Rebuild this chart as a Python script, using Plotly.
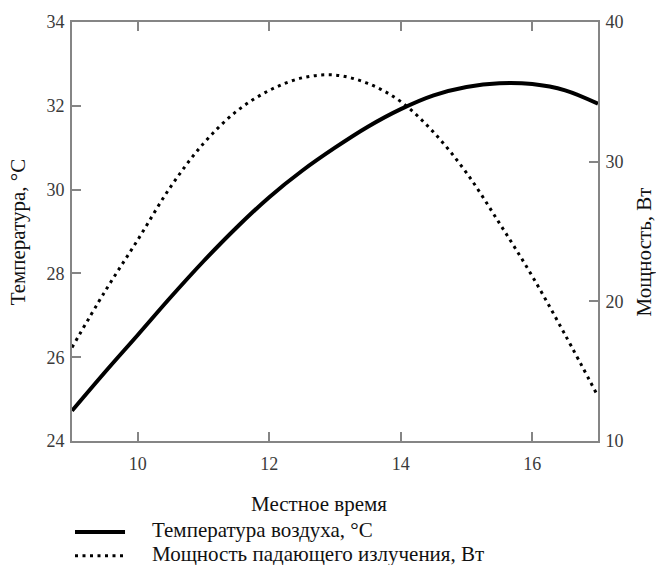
import plotly.graph_objects as go

# ---- data ----
hours = [9.0, 9.5, 10.0, 10.5, 11.0, 11.5, 12.0, 12.5, 13.0, 13.5,
         14.0, 14.5, 15.0, 15.5, 16.0, 16.5, 17.0]
temperature = [24.72, 25.64, 26.53, 27.43, 28.29, 29.09, 29.82, 30.45, 31.00, 31.50,
               31.92, 32.25, 32.45, 32.54, 32.52, 32.37, 32.05]
power = [16.7, 20.7, 24.4, 28.2, 31.3, 33.6, 35.1, 36.0, 36.2, 35.6,
         34.3, 32.1, 29.2, 25.6, 21.8, 17.6, 13.2]

x_ticks = [10, 12, 14, 16]
y_ticks = [24, 26, 28, 30, 32, 34]
y2_ticks = [10, 20, 30, 40]

x_title = "Местное время"
y_title = "Температура, °C"
y2_title = "Мощность, Вт"
series_names = ["Температура воздуха, °C", "Мощность падающего излучения, Вт"]

FONT = "Liberation Serif"
AXIS_COLOR = "#858585"
TICK_FONT = dict(family=FONT, size=18, color="#3a3a3a")
TITLE_FONT = dict(family=FONT, size=21, color="#111111")

fig = go.Figure()
fig.add_trace(go.Scatter(
    x=hours, y=temperature, name=series_names[0], mode="lines",
    line=dict(color="black", width=4, shape="spline", smoothing=1.0), showlegend=False,
))
fig.add_trace(go.Scatter(
    x=hours, y=power, name=series_names[1], mode="lines", yaxis="y2",
    line=dict(color="black", width=3, dash="3px,4.5px", shape="spline"), showlegend=False,
))

axis_common = dict(
    showgrid=False, zeroline=False, showline=True, linecolor=AXIS_COLOR, linewidth=1.6,
    ticks="inside", ticklen=9, tickwidth=1.6, tickcolor=AXIS_COLOR, tickfont=TICK_FONT,
)

fig.update_layout(
    width=656, height=565,
    margin=dict(l=72, r=58, t=17, b=124),
    paper_bgcolor="white", plot_bgcolor="white",
    font=dict(family=FONT),
    xaxis=dict(range=[9, 17], tickvals=x_ticks, mirror="ticks", ticklabelstandoff=6, **axis_common),
    yaxis=dict(range=[24, 34], tickvals=y_ticks, mirror=False, ticklabelstandoff=2, **axis_common),
    yaxis2=dict(range=[10, 40], tickvals=y2_ticks, overlaying="y", side="right",
                ticklabelstandoff=2, **axis_common),
    showlegend=False,
)

# axis titles
fig.add_annotation(text=y_title, xref="paper", yref="paper", x=0, y=0.498,
                   xshift=-54, textangle=-90, showarrow=False,
                   xanchor="center", yanchor="middle", font=TITLE_FONT)
fig.add_annotation(text=y2_title, xref="paper", yref="paper", x=1, y=0.45,
                   xshift=46, textangle=-90, showarrow=False,
                   xanchor="center", yanchor="middle", font=TITLE_FONT)
fig.add_annotation(text=x_title, xref="paper", yref="paper", x=0.4696, y=-0.151,
                   showarrow=False, xanchor="center", yanchor="middle", font=TITLE_FONT)

# legend (drawn below the x title, as in the reference)
legend_rows = [(-0.2170, dict(color="black", width=4)),
               (-0.2736, dict(color="black", width=3, dash="3px,4.5px"))]
for name, (ly, lstyle) in zip(series_names, legend_rows):
    fig.add_shape(type="line", xref="paper", yref="paper",
                  x0=0.0057, x1=0.1008, y0=ly, y1=ly, line=lstyle)
    fig.add_annotation(text=name, xref="paper", yref="paper", x=0.1483, y=ly + 0.004,
                       showarrow=False, xanchor="left", yanchor="middle", font=TITLE_FONT)

fig.write_html("out.html")
